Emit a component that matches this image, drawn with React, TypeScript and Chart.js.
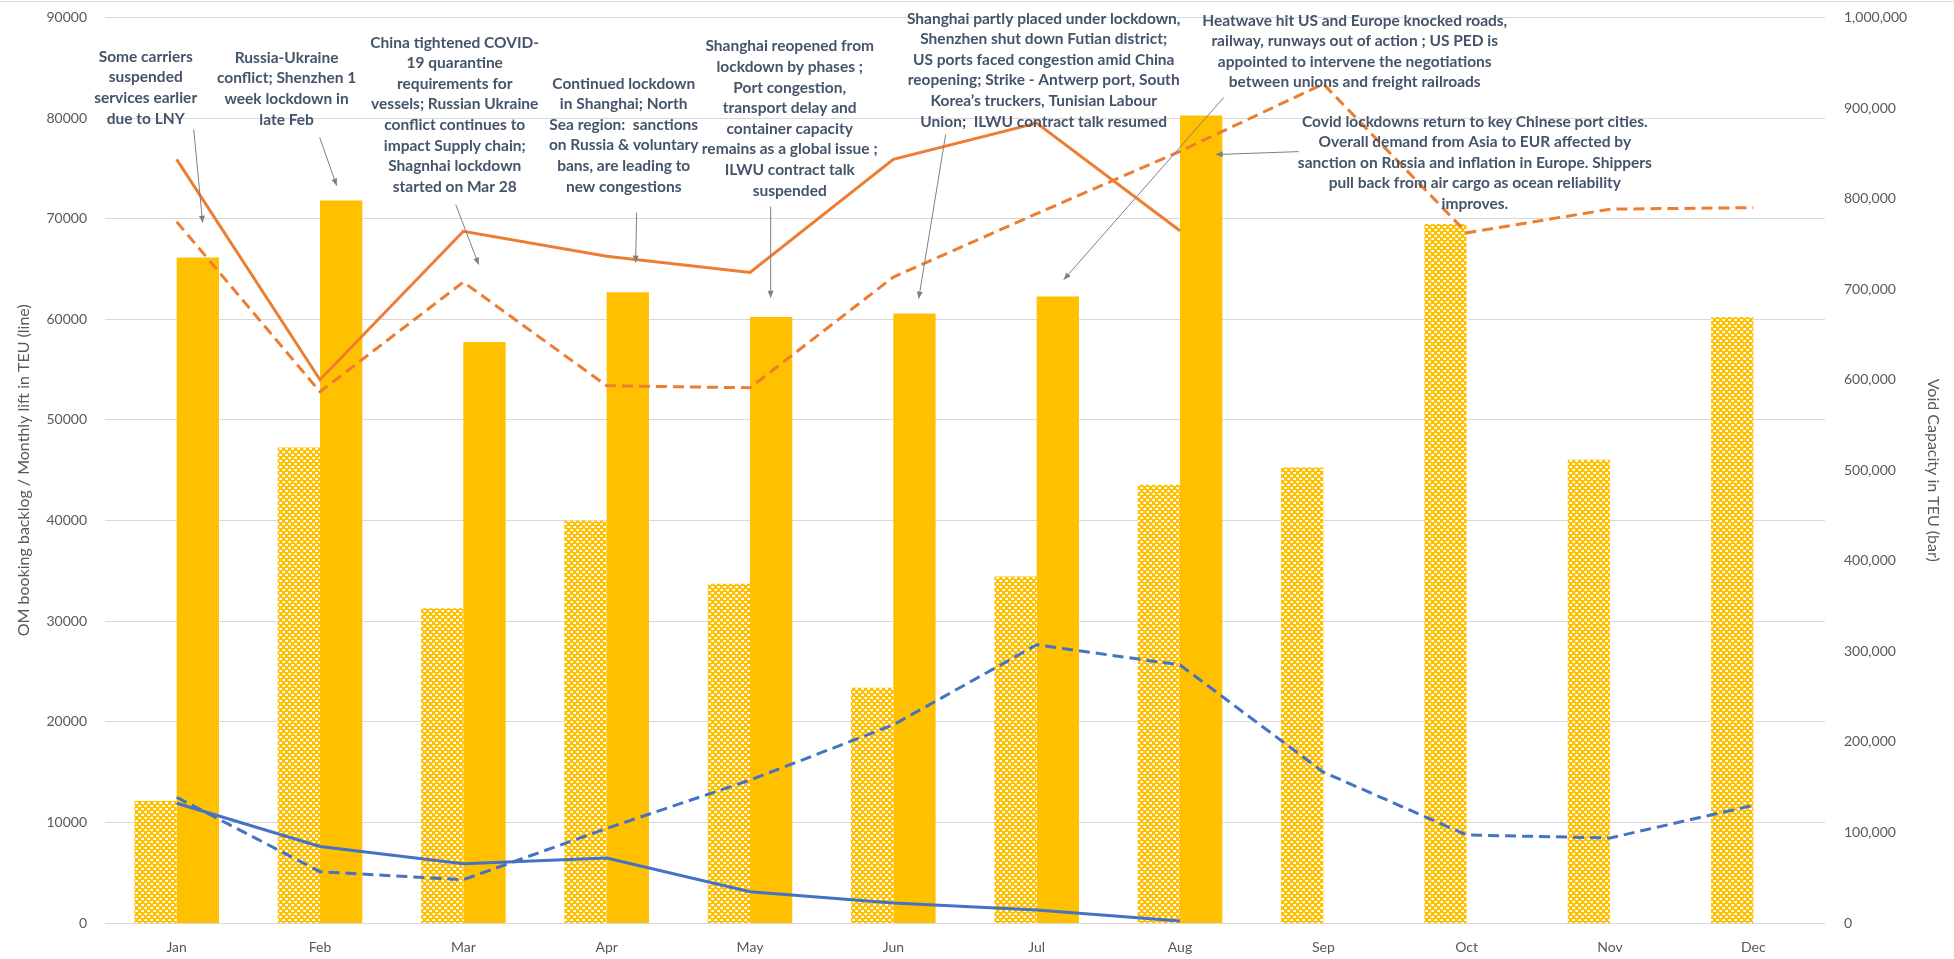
import React, { useEffect, useRef } from "react";
import { Chart, registerables } from "chart.js";

Chart.register(...registerables);

const months = ["Jan", "Feb", "Mar", "Apr", "May", "Jun", "Jul", "Aug", "Sep", "Oct", "Nov", "Dec"];

// Bars (right axis, Void Capacity in TEU)
const voidCapacityPattern = [134800, 525200, 347700, 444200, 374600, 259700, 382600, 484000, 503100, 772000, 511600, 669300];
const voidCapacitySolid = [735000, 798000, 641600, 696500, 669200, 673000, 692000, 891700, null, null, null, null];

// Lines (left axis)
const orangeSolid = [75900, 54000, 68750, 66260, 64650, 75900, 79500, 68800];
const orangeDashed = [69700, 52800, 63700, 53400, 53200, 64200, 70500, 76700, 83400, 68600, 70950, 71100];
const blueSolid = [11900, 7600, 5900, 6450, 3100, 2000, 1300, 200];
const blueDashed = [12500, 5100, 4300, 9400, 14200, 19700, 27650, 25650, 15000, 8750, 8450, 11700];

const leftMax = 90000;
const leftStep = 10000;
const rightMax = 1000000;
const rightStep = 100000;

const leftTitle = "OM booking backlog / Monthly lift in TEU (line)";
const rightTitle = "Void Capacity in TEU (bar)";

// Annotations: text anchor (category units, left-axis value) and arrow from/to in same units
type Note = { lines: string[]; cx: number; vy: number; from: [number, number]; to: [number, number] };
const notes: Note[] = [
  {
    lines: ["Some carriers", "suspended", "services earlier", "due to LNY"],
    cx: -0.216, vy: 86100, from: [0.119, 78860], to: [0.181, 69610],
  },
  {
    lines: ["Russia-Ukraine", "conflict; Shenzhen 1", "week lockdown in", "late Feb"],
    cx: 0.767, vy: 86000, from: [0.998, 78070], to: [1.116, 73290],
  },
  {
    lines: [
      "China tightened COVID-", "19 quarantine", "requirements for", "vessels; Russian Ukraine",
      "conflict continues to", "impact Supply chain;", "Shagnhai lockdown", "started on Mar 28",
    ],
    cx: 1.94, vy: 87500, from: [1.947, 71400], to: [2.107, 65440],
  },
  {
    lines: [
      "Continued lockdown", "in Shanghai; North", "Sea region:  sanctions", "on Russia & voluntary",
      "bans, are leading to", "new congestions",
    ],
    cx: 3.119, vy: 83440, from: [3.209, 70610], to: [3.202, 65640],
  },
  {
    lines: [
      "Shanghai reopened from", "lockdown by phases ;", "Port congestion,", "transport delay and",
      "container capacity", "remains as a global issue ;", "ILWU contract talk", "suspended",
    ],
    cx: 4.277, vy: 87120, from: [4.144, 71200], to: [4.144, 62150],
  },
  {
    lines: [
      "Shanghai partly placed under lockdown,", "Shenzhen shut down Futian district;",
      "US ports faced congestion amid China", "reopening; Strike - Antwerp port, South",
      "Korea\u2019s truckers, Tunisian Labour", "Union;  ILWU contract talk resumed",
    ],
    cx: 6.049, vy: 89900, from: [5.365, 78360], to: [5.177, 62060],
  },
  {
    lines: [
      "Heatwave hit US and Europe knocked roads,", "railway, runways out of action ; US PED is",
      "appointed to intervene the negotiations", "between unions and freight railroads",
    ],
    cx: 8.219, vy: 89700, from: [7.305, 82045], to: [6.189, 63945],
  },
  {
    lines: [
      "Covid lockdowns return to key Chinese port cities.", "Overall demand from Asia to EUR affected by",
      "sanction on Russia and inflation in Europe. Shippers", "pull back from air cargo as ocean reliability",
      "improves.",
    ],
    cx: 9.057, vy: 79660, from: [7.828, 76670], to: [7.249, 76380],
  },
];

function makePattern(): CanvasPattern | string {
  const c = document.createElement("canvas");
  c.width = 6;
  c.height = 6;
  const g = c.getContext("2d");
  if (!g) return "#FFC000";
  g.fillStyle = "#FFC000";
  g.fillRect(0, 0, 6, 6);
  g.fillStyle = "#FFFFFF";
  g.fillRect(1, 1, 2, 2);
  g.fillRect(4, 4, 2, 2);
  g.fillStyle = "#FFE8A6";
  g.fillRect(0, 1, 1, 2);
  g.fillRect(3, 4, 1, 2);
  const p = g.createPattern(c, "repeat");
  return p || "#FFC000";
}

const annotationPlugin = {
  id: "notes",
  afterDraw(chart: any) {
    const ctx = chart.ctx as CanvasRenderingContext2D;
    const xs = chart.scales.x;
    const ys = chart.scales.y;
    const x0 = xs.getPixelForValue(0);
    const dx = xs.getPixelForValue(1) - x0;
    const px = (c: number) => x0 + c * dx;
    const py = (v: number) => ys.getPixelForValue(v);

    ctx.save();
    // top border line
    ctx.strokeStyle = "#D9D9D9";
    ctx.lineWidth = 1;
    ctx.beginPath();
    ctx.moveTo(0, 1.5);
    ctx.lineTo(chart.width, 1.5);
    ctx.stroke();

    for (const n of notes) {
      // arrow
      const ax = px(n.from[0]);
      const ay = py(n.from[1]);
      const bx = px(n.to[0]);
      const by = py(n.to[1]);
      ctx.strokeStyle = "#7F7F7F";
      ctx.fillStyle = "#7F7F7F";
      ctx.lineWidth = 1;
      ctx.beginPath();
      ctx.moveTo(ax, ay);
      ctx.lineTo(bx, by);
      ctx.stroke();
      const ang = Math.atan2(by - ay, bx - ax);
      const L = 7;
      const W = 3;
      ctx.beginPath();
      ctx.moveTo(bx, by);
      ctx.lineTo(bx - L * Math.cos(ang) + W * Math.sin(ang), by - L * Math.sin(ang) - W * Math.cos(ang));
      ctx.lineTo(bx - L * Math.cos(ang) - W * Math.sin(ang), by - L * Math.sin(ang) + W * Math.cos(ang));
      ctx.closePath();
      ctx.fill();

      // text
      ctx.fillStyle = "#44546A";
      ctx.font = "bold 15.5px Lato";
      ctx.textAlign = "center";
      ctx.textBaseline = "middle";
      const tx = px(n.cx);
      const ty = py(n.vy);
      n.lines.forEach((line, i) => {
        ctx.fillText(line, tx, ty + i * 20.6);
      });
    }
    ctx.restore();
  },
};

export default function App() {
  const ref = useRef<HTMLCanvasElement | null>(null);

  useEffect(() => {
    document.body.style.margin = "0";
    const canvas = ref.current;
    if (!canvas) return;
    const pattern = makePattern();

    const chart = new Chart(canvas, {
      type: "bar",
      data: {
        labels: months,
        datasets: [
          {
            type: "line",
            label: "Orange solid",
            data: orangeSolid,
            borderColor: "#ED7D31",
            borderWidth: 3,
            pointRadius: 0,
            tension: 0,
            yAxisID: "y",
            order: 1,
          },
          {
            type: "line",
            label: "Orange dashed",
            data: orangeDashed,
            borderColor: "#ED7D31",
            borderWidth: 3,
            borderDash: [11, 6],
            pointRadius: 0,
            tension: 0,
            yAxisID: "y",
            order: 1,
          },
          {
            type: "line",
            label: "Blue solid",
            data: blueSolid,
            borderColor: "#4472C4",
            borderWidth: 3,
            pointRadius: 0,
            tension: 0,
            yAxisID: "y",
            order: 1,
          },
          {
            type: "line",
            label: "Blue dashed",
            data: blueDashed,
            borderColor: "#4472C4",
            borderWidth: 3,
            borderDash: [11, 6],
            pointRadius: 0,
            tension: 0,
            yAxisID: "y",
            order: 1,
          },
          {
            type: "bar",
            label: "Void capacity (pattern)",
            data: voidCapacityPattern,
            backgroundColor: pattern as any,
            borderWidth: 0,
            yAxisID: "y1",
            order: 2,
            categoryPercentage: 0.59,
            barPercentage: 1,
          },
          {
            type: "bar",
            label: "Void capacity",
            data: voidCapacitySolid,
            backgroundColor: "#FFC000",
            borderWidth: 0,
            yAxisID: "y1",
            order: 2,
            categoryPercentage: 0.59,
            barPercentage: 1,
          },
        ] as any,
      },
      options: {
        responsive: false,
        animation: false,
        devicePixelRatio: 1,
        layout: { padding: { top: 17.5, left: 0, right: 0, bottom: 0 } },
        plugins: {
          legend: { display: false },
          tooltip: { enabled: false },
        },
        scales: {
          x: {
            grid: { display: false, drawTicks: false },
            border: { display: false },
            ticks: { color: "#595959", font: { family: "Lato", size: 14 }, padding: 16 },
            afterFit: (s: any) => {
              s.height = 36;
            },
          },
          y: {
            position: "left",
            min: 0,
            max: leftMax,
            ticks: {
              stepSize: leftStep,
              color: "#595959",
              font: { family: "Lato", size: 14 },
              padding: 18,
              callback: (v: any) => String(v),
            },
            grid: { color: "#D9D9D9", lineWidth: 1, drawTicks: false },
            border: { display: false },
            title: {
              display: true,
              text: leftTitle,
              color: "#595959",
              font: { family: "Lato", size: 16 },
              padding: { top: 14, bottom: 0 },
            },
            afterFit: (s: any) => {
              s.width = 105;
              s.paddingTop = 0;
              s.paddingBottom = 0;
            },
          },
          y1: {
            position: "right",
            min: 0,
            max: rightMax,
            ticks: {
              stepSize: rightStep,
              color: "#595959",
              font: { family: "Lato", size: 14 },
              padding: 19,
              callback: (v: any) => Number(v).toLocaleString("en-US"),
            },
            grid: { display: false, drawTicks: false },
            border: { display: false },
            title: {
              display: true,
              text: rightTitle,
              color: "#595959",
              font: { family: "Lato", size: 16 },
              padding: { top: 11, bottom: 0 },
            },
            afterFit: (s: any) => {
              s.width = 129;
              s.paddingTop = 0;
              s.paddingBottom = 0;
            },
          },
        },
      },
      plugins: [annotationPlugin],
    });

    return () => chart.destroy();
  }, []);

  return (
    <div style={{ width: 1954, height: 959, background: "#FFFFFF" }}>
      <canvas ref={ref} width={1954} height={959} style={{ display: "block" }} />
    </div>
  );
}
